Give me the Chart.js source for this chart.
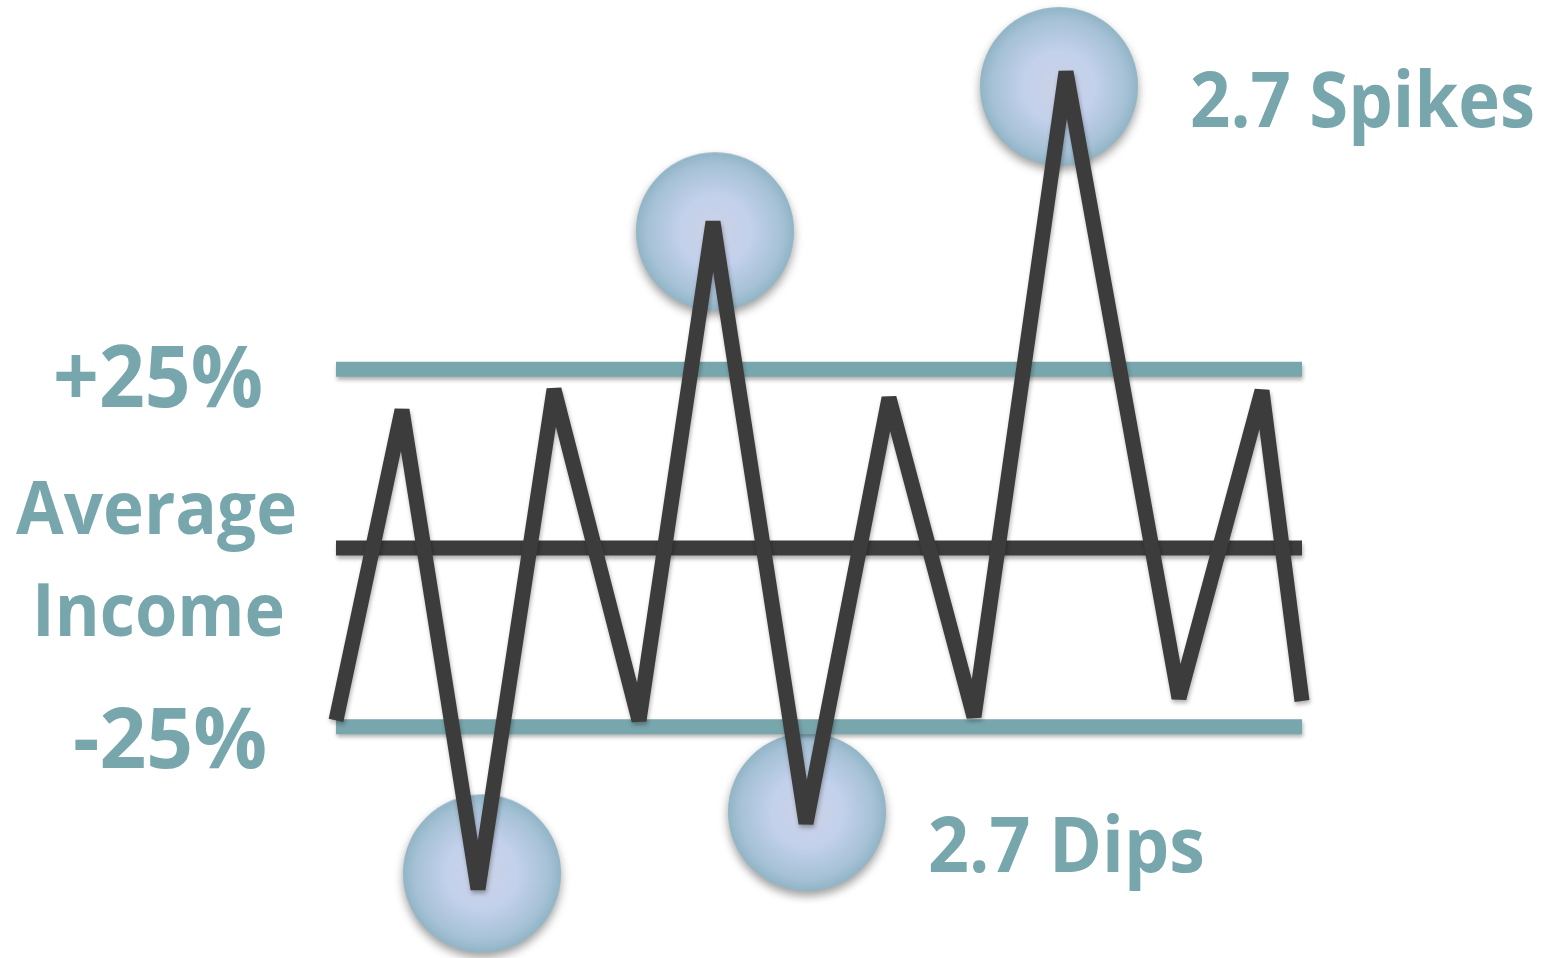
<!DOCTYPE html>
<html>
<head>
<meta charset="utf-8">
<script src="https://cdn.jsdelivr.net/npm/chart.js@4/dist/chart.umd.min.js"></script>
<style>
  html, body { margin: 0; padding: 0; background: #ffffff; overflow: hidden; }
  #wrap { position: relative; width: 1554px; height: 958px; }
</style>
</head>
<body>
<div id="wrap"><canvas id="myChart"></canvas></div>
<script>
// income path (x = period, y = % away from average)
var periods   = [0, 6.6, 14.2, 21.8, 30.3, 37.7, 47.0, 55.3, 63.8, 73.0, 84.3, 92.6, 96.6];
var incomeDev = [-24.1, 19.3, -47.7, 22.2, -24.1, 45.6, -38.5, 21.0, -23.6, 66.6, -21.0, 22.0, -21.4];

// band lines
var bandLevels = [25, 0, -25];
var bandFrom = 0;
var bandTo = 96.6;

// highlighted spikes and dips
var markX = [37.9, 72.3, 14.6, 47.1];
var markY = [44.3, 64.6, -45.5, -36.9];

// texts
var sideLabels = ['+25%', 'Average', 'Income', '-25%'];
var calloutLabels = ['2.7 Spikes', '2.7 Dips'];

var TEAL = '#78a6ad';
var DARK = '#3c3c3c';

document.addEventListener("DOMContentLoaded", function(){

    // bubble used as point style
    function makeBubble() {
        var c = document.createElement('canvas');
        c.width = 200; c.height = 200;
        var g = c.getContext('2d');
        g.save();
        g.shadowColor = 'rgba(0,0,0,0.38)';
        g.shadowBlur = 10;
        g.shadowOffsetY = 5;
        var grad = g.createRadialGradient(100, 100, 0, 100, 100, 79);
        grad.addColorStop(0, '#cbd2e5');
        grad.addColorStop(0.45, '#c3d1ec');
        grad.addColorStop(0.85, '#a6c1d6');
        grad.addColorStop(1, '#91b5c6');
        g.fillStyle = grad;
        g.beginPath();
        g.arc(100, 100, 79, 0, Math.PI * 2);
        g.fill();
        g.restore();
        return c;
    }

    function linePoints(level) {
        return [{x: bandFrom, y: level}, {x: bandTo, y: level}];
    }

    var incomeData = periods.map(function(p, i){ return {x: p, y: incomeDev[i]}; });
    var markData = markX.map(function(p, i){ return {x: p, y: markY[i]}; });

    // soft drop shadow under the lines
    var shadowPlugin = {
        id: 'shadows',
        beforeDatasetDraw: function(chart, args) {
            var ctx = chart.ctx;
            ctx.save();
            if (args.index < 4) {
                ctx.shadowColor = 'rgba(0,0,0,0.3)';
                ctx.shadowBlur = 4;
                ctx.shadowOffsetX = 1;
                ctx.shadowOffsetY = 3;
            }
        },
        afterDatasetDraw: function(chart) {
            chart.ctx.restore();
        }
    };

    function fitText(ctx, text, left, baseline, size, width) {
        ctx.font = 'bold ' + size + 'px "Open Sans", sans-serif';
        var w = ctx.measureText(text).width;
        ctx.save();
        ctx.translate(left, baseline);
        ctx.scale(width / w, 1);
        ctx.fillText(text, 0, 0);
        ctx.restore();
    }

    var labelPlugin = {
        id: 'labels',
        afterDraw: function(chart) {
            var ctx = chart.ctx;
            var ys = chart.scales.y;
            ctx.save();
            ctx.fillStyle = TEAL;
            ctx.textBaseline = 'alphabetic';
            ctx.textAlign = 'left';
            var up = ys.getPixelForValue(25), mid = ys.getPixelForValue(0), lo = ys.getPixelForValue(-25);
            fitText(ctx, sideLabels[0], 53, up + 38, 86, 210);
            fitText(ctx, sideLabels[1], 16, mid - 14, 73, 281);
            fitText(ctx, sideLabels[2], 32, mid + 88, 73, 253);
            fitText(ctx, sideLabels[3], 73, lo + 41, 85, 194);
            fitText(ctx, calloutLabels[0], 1190, 127, 77, 345);
            fitText(ctx, calloutLabels[1], 928, 872, 77, 277);
            ctx.restore();
        }
    };

    var config = {
        type: 'line',
        data: {
            datasets: [{
                label: 'Income',
                data: incomeData,
                borderColor: DARK,
                borderWidth: 15,
                borderJoinStyle: 'bevel',
                borderCapStyle: 'butt',
                tension: 0,
                pointRadius: 0
            }, {
                label: 'Average',
                data: linePoints(bandLevels[1]),
                borderColor: DARK,
                borderWidth: 15,
                borderCapStyle: 'butt',
                pointRadius: 0
            }, {
                label: '+25%',
                data: linePoints(bandLevels[0]),
                borderColor: TEAL,
                borderWidth: 15,
                borderCapStyle: 'butt',
                pointRadius: 0
            }, {
                label: '-25%',
                data: linePoints(bandLevels[2]),
                borderColor: TEAL,
                borderWidth: 15,
                borderCapStyle: 'butt',
                pointRadius: 0
            }, {
                label: 'Spikes and dips',
                data: markData,
                showLine: false,
                pointStyle: makeBubble(),
                pointRadius: 5,
                pointHoverRadius: 5
            }]
        },
        options: {
            responsive: true,
            maintainAspectRatio: false,
            animation: false,
            events: [],
            layout: { padding: 0, autoPadding: false },
            plugins: {
                legend: { display: false },
                tooltip: { enabled: false }
            },
            scales: {
                x: { type: 'linear', min: -33.6, max: 121.8, display: false },
                y: { type: 'linear', min: -57.34, max: 76.64, display: false }
            }
        },
        plugins: [shadowPlugin, labelPlugin]
    };

    var myChart = new Chart(document.getElementById('myChart'), config);
});
</script>
</body>
</html>
